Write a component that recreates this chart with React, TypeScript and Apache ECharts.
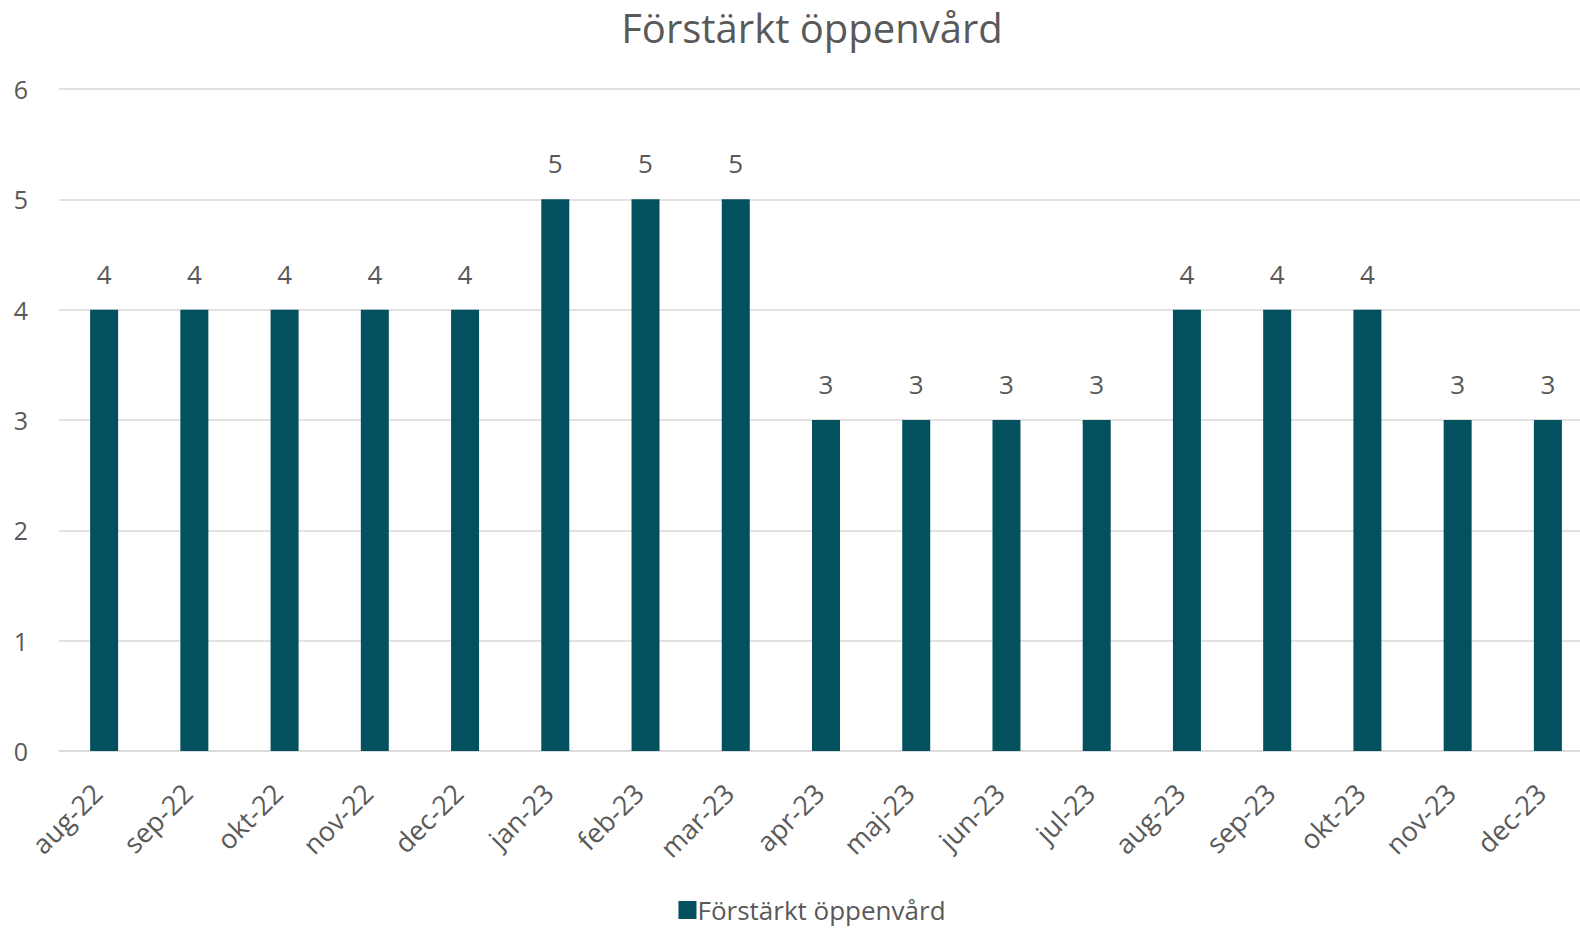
import React, { useEffect, useRef } from "react";
import * as echarts from "echarts";

const categories = ["aug-22","sep-22","okt-22","nov-22","dec-22","jan-23","feb-23","mar-23","apr-23","maj-23","jun-23","jul-23","aug-23","sep-23","okt-23","nov-23","dec-23"];
const values = [4,4,4,4,4,5,5,5,3,3,3,3,4,4,4,3,3];
const seriesName = "Förstärkt öppenvård";
const titleText = "Förstärkt öppenvård";
const yTicks = { min: 0, max: 6, interval: 1 };

const FONT = "'Open Sans', sans-serif";
const TEXT = "#595959";

export default function App() {
  const ref = useRef<HTMLDivElement>(null);
  useEffect(() => {
    document.body.style.margin = "0";
    document.body.style.overflow = "hidden";
    const chart = echarts.init(ref.current!, null, { renderer: "svg" });
    chart.setOption({
      animation: false,
      backgroundColor: "#ffffff",
      title: {
        text: titleText,
        left: "center",
        top: 3,
        padding: 0,
        textStyle: { fontFamily: FONT, fontSize: 40, lineHeight: 48, fontWeight: "normal", color: TEXT },
      },
      legend: {
        data: [seriesName],
        left: "center",
        top: 892,
        itemWidth: 18,
        itemHeight: 18,
        itemGap: 10,
        textStyle: { fontFamily: FONT, fontSize: 26, color: TEXT, padding: [0, 0, 0, -4] },
        icon: "rect",
      },
      grid: { left: 59, right: 31, top: 89, bottom: 178, containLabel: false },
      xAxis: {
        type: "category",
        data: categories,
        axisLine: { lineStyle: { color: "#d9d9d9", width: 1.5 } },
        axisTick: { show: false },
        axisLabel: {
          rotate: 45,
          margin: 30,
          interval: 0,
          padding: [0, 10, 0, 0],
          fontFamily: FONT,
          fontSize: 27,
          color: TEXT,
        },
      },
      yAxis: {
        type: "value",
        min: yTicks.min,
        max: yTicks.max,
        interval: yTicks.interval,
        axisLine: { show: false },
        axisTick: { show: false },
        splitLine: { lineStyle: { color: "#d9d9d9", width: 1.5 } },
        axisLabel: { margin: 31, fontFamily: FONT, fontSize: 25, color: TEXT },
      },
      series: [
        {
          name: seriesName,
          type: "bar",
          data: values,
          barWidth: 28,
          itemStyle: { color: "#03505F" },
          label: {
            show: true,
            position: "top",
            distance: 23,
            fontFamily: FONT,
            fontSize: 26,
            color: TEXT,
          },
        },
      ],
    });
    return () => chart.dispose();
  }, []);
  return (
    <div style={{ position: "fixed", left: 0, top: 0, width: 1580, height: 929, overflow: "hidden" }}>
      <div ref={ref} style={{ width: 1624, height: 929 }} />
    </div>
  );
}
